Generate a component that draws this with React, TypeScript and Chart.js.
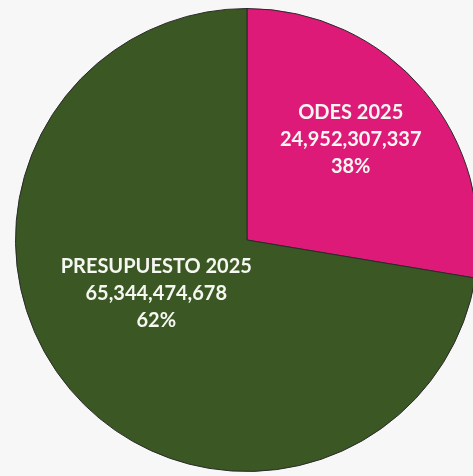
import React, { useEffect, useRef } from "react";
import { Chart, registerables } from "chart.js";

Chart.register(...registerables);

const categories = ["ODES 2025", "PRESUPUESTO 2025"];
const values = [24952307337, 65344474678];
const valueLabels = ["24,952,307,337", "65,344,474,678"];
const percentLabels = ["38%", "62%"];
const colors = ["#de1a78", "#3a5724"];

const labelPlugin = {
  id: "sliceLabels",
  afterDatasetsDraw(chart: any, _args: any, opts: any) {
    const meta = chart.getDatasetMeta(0);
    const ctx = chart.ctx;
    ctx.save();
    ctx.fillStyle = "#f7f7f2";
    ctx.font = "bold 20px Lato";
    ctx.textAlign = "center";
    ctx.textBaseline = "middle";
    meta.data.forEach((arc: any, i: number) => {
      const p = opts.positions[i];
      const x = arc.x + arc.outerRadius * p[0];
      const y = arc.y + arc.outerRadius * p[1];
      const lines = [categories[i], valueLabels[i], percentLabels[i]];
      lines.forEach((t, j) => {
        ctx.fillText(t, x, y + (j - 1) * 27);
      });
    });
    ctx.restore();
  },
};

export default function App() {
  const ref = useRef<HTMLCanvasElement>(null);
  useEffect(() => {
    const chart = new Chart(ref.current!, {
      type: "pie",
      data: {
        labels: categories,
        datasets: [
          {
            data: values,
            backgroundColor: colors,
            borderColor: "#2a2a2a",
            borderWidth: 1,
          },
        ],
      },
      options: {
        animation: false,
        responsive: true,
        maintainAspectRatio: false,
        layout: { padding: 0 },
        plugins: {
          legend: { display: false },
          tooltip: { enabled: false },
          sliceLabels: { positions: [[0.448, -0.435], [-0.392, 0.232]] },
        } as any,
      },
      plugins: [labelPlugin],
    });
    return () => chart.destroy();
  }, []);
  return (
    <div
      style={{
        position: "fixed",
        left: 0,
        top: 0,
        width: 473,
        height: 476,
        overflow: "hidden",
        background: "#f7f7f7",
      }}
    >
      <div style={{ position: "absolute", left: 15, top: 7, width: 464, height: 466 }}>
        <canvas ref={ref} />
      </div>
    </div>
  );
}
